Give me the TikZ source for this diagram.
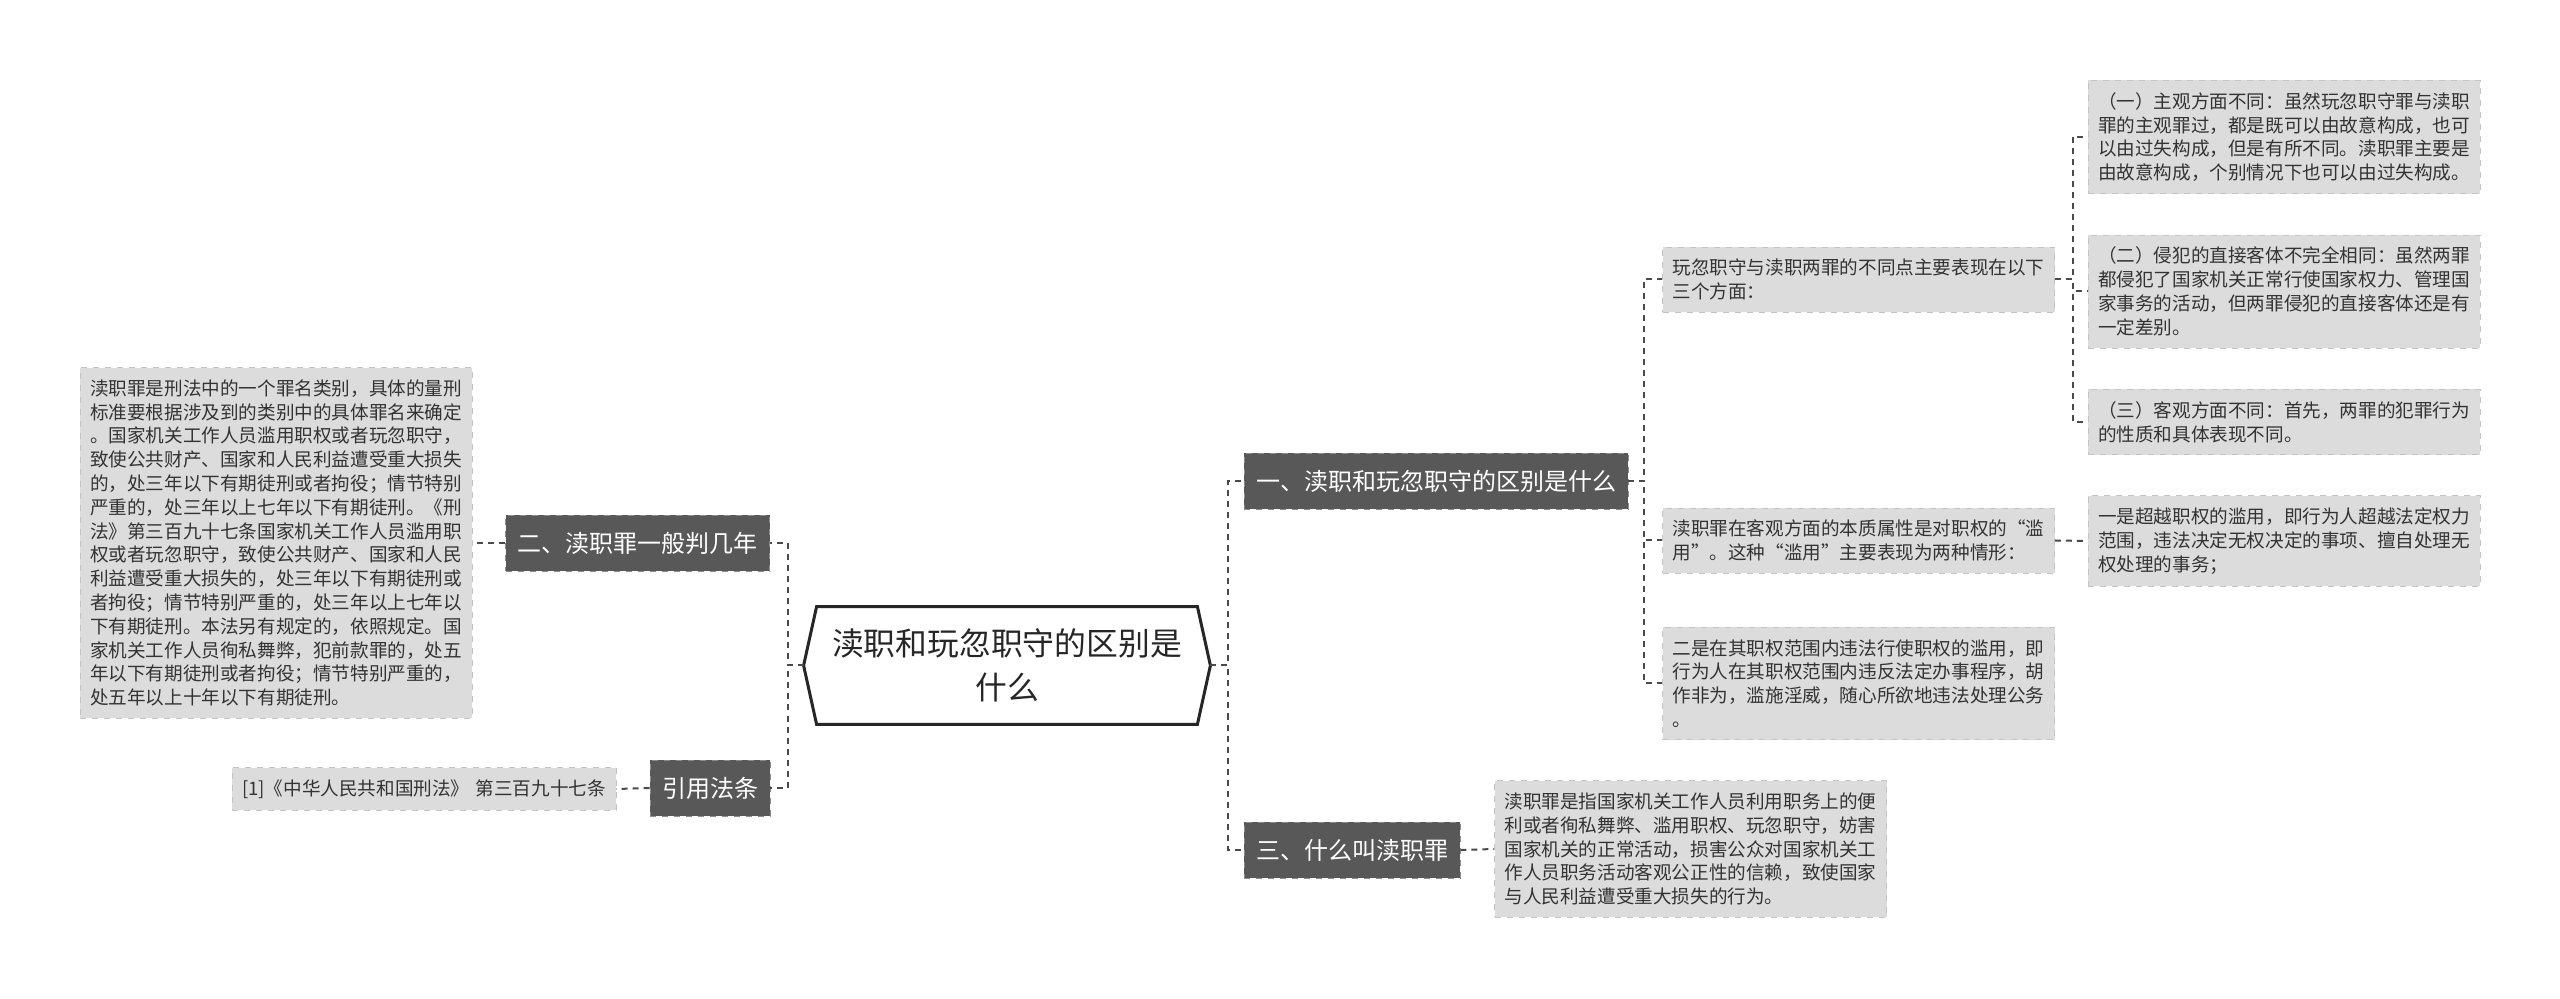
\documentclass[tikz,border=0pt]{standalone}
\usepackage{fontspec}
\usepackage{xcolor}
\usepackage{tikz}
\newfontfamily\cjk{Noto Sans CJK SC}

\definecolor{darkfill}{HTML}{585858}
\definecolor{darkedge}{HTML}{8C8C8C}
\definecolor{notefill}{HTML}{DCDCDC}
\definecolor{noteedge}{HTML}{C4C4C4}
\definecolor{linkgray}{HTML}{4A4A4A}

\begin{document}
\begin{tikzpicture}[
    x=0.5pt, y=-0.5pt,
    topic/.style={draw=darkedge, dashed, fill=darkfill, text=white, minimum height=28pt, inner xsep=6pt, font=\cjk\fontsize{12pt}{14pt}\selectfont},
    note/.style={draw=noteedge, dashed, fill=notefill, text=black!80, align=left, text width=#1, inner xsep=5pt, inner ysep=6pt, font=\cjk\fontsize{9.3pt}{11.9pt}\selectfont},
    note/.default=186pt,
    link/.style={draw=linkgray, line width=1pt, dash pattern=on 3pt off 2.5pt}
]
    \useasboundingbox (0,0) rectangle (2560,999);
    \fill[white] (0,0) rectangle (2560,999);

    % centre
    \node[minimum width=203pt, minimum height=58.5pt, align=center, inner sep=0pt,
          font=\cjk\fontsize{15.9pt}{21.7pt}\selectfont, text=black!85] (root) at (1007,665.5)
        {渎职和玩忽职守的区别是\\什么};
    \draw[line width=1.5pt, black!85] ([xshift=6.5pt]root.north west) -- ([xshift=-6.5pt]root.north east) -- (root.east)
        -- ([xshift=-6.5pt]root.south east) -- ([xshift=6.5pt]root.south west) -- (root.west) -- cycle;

    % topics
    \node[topic] (sec1) at (1436,481.5) {一、渎职和玩忽职守的区别是什么};
    \node[topic] (sec3) at (1352,850) {三、什么叫渎职罪};
    \node[topic] (sec2) at (637.5,543) {二、渎职罪一般判几年};
    \node[topic] (cite) at (710,788) {引用法条};

    % left notes
    \node[note] (law) at (276,543)
        {渎职罪是刑法中的一个罪名类别，具体的量刑\\
         标准要根据涉及到的类别中的具体罪名来确定\\
         。国家机关工作人员滥用职权或者玩忽职守，\\
         致使公共财产、国家和人民利益遭受重大损失\\
         的，处三年以下有期徒刑或者拘役；情节特别\\
         严重的，处三年以上七年以下有期徒刑。《刑\\
         法》第三百九十七条国家机关工作人员滥用职\\
         权或者玩忽职守，致使公共财产、国家和人民\\
         利益遭受重大损失的，处三年以下有期徒刑或\\
         者拘役；情节特别严重的，处三年以上七年以\\
         下有期徒刑。本法另有规定的，依照规定。国\\
         家机关工作人员徇私舞弊，犯前款罪的，处五\\
         年以下有期徒刑或者拘役；情节特别严重的，\\
         处五年以上十年以下有期徒刑。};
    \node[note=182pt] (lawref) at (424,789) {[1]《中华人民共和国刑法》 第三百九十七条};

    % right notes
    \node[note] (n3) at (1690.5,849)
        {渎职罪是指国家机关工作人员利用职务上的便\\
         利或者徇私舞弊、滥用职权、玩忽职守，妨害\\
         国家机关的正常活动，损害公众对国家机关工\\
         作人员职务活动客观公正性的信赖，致使国家\\
         与人民利益遭受重大损失的行为。};
    \node[note] (n11) at (1858.5,279.5)
        {玩忽职守与渎职两罪的不同点主要表现在以下\\
         三个方面：};
    \node[note] (n12) at (1858.5,540.5)
        {渎职罪在客观方面的本质属性是对职权的“滥\\
         用”。这种“滥用”主要表现为两种情形：};
    \node[note] (n13) at (1858.5,683.5)
        {二是在其职权范围内违法行使职权的滥用，即\\
         行为人在其职权范围内违反法定办事程序，胡\\
         作非为，滥施淫威，随心所欲地违法处理公务\\
         。};
    \node[note] (n111) at (2284,137)
        {（一）主观方面不同：虽然玩忽职守罪与渎职\\
         罪的主观罪过，都是既可以由故意构成，也可\\
         以由过失构成，但是有所不同。渎职罪主要是\\
         由故意构成，个别情况下也可以由过失构成。};
    \node[note] (n112) at (2284,291.5)
        {（二）侵犯的直接客体不完全相同：虽然两罪\\
         都侵犯了国家机关正常行使国家权力、管理国\\
         家事务的活动，但两罪侵犯的直接客体还是有\\
         一定差别。};
    \node[note] (n113) at (2284,422)
        {（三）客观方面不同：首先，两罪的犯罪行为\\
         的性质和具体表现不同。};
    \node[note] (n121) at (2284,541)
        {一是超越职权的滥用，即行为人超越法定权力\\
         范围，违法决定无权决定的事项、擅自处理无\\
         权处理的事务；};

    % links
    \draw[link] (root.east) -- ++(9pt,0) |- (sec1.west);
    \draw[link] (root.east) -- ++(9pt,0) |- (sec3.west);
    \draw[link] (root.west) -- ++(-8pt,0) |- (sec2.east);
    \draw[link] (root.west) -- ++(-8pt,0) |- (cite.east);
    \draw[link] (sec2.west) -- (law.east);
    \draw[link] (cite.west) -- (lawref.east);
    \draw[link] (sec3.east) -- (n3.west);
    \draw[link] (sec1.east) -- ++(8pt,0) |- (n11.west);
    \draw[link] (sec1.east) -- ++(8pt,0) |- (n12.west);
    \draw[link] (sec1.east) -- ++(8pt,0) |- (n13.west);
    \draw[link] (n11.east) -- ++(9pt,0) |- (n111.west);
    \draw[link] (n11.east) -- ++(9pt,0) |- (n112.west);
    \draw[link] (n11.east) -- ++(9pt,0) |- (n113.west);
    \draw[link] (n12.east) -- (n121.west);
\end{tikzpicture}
\end{document}
